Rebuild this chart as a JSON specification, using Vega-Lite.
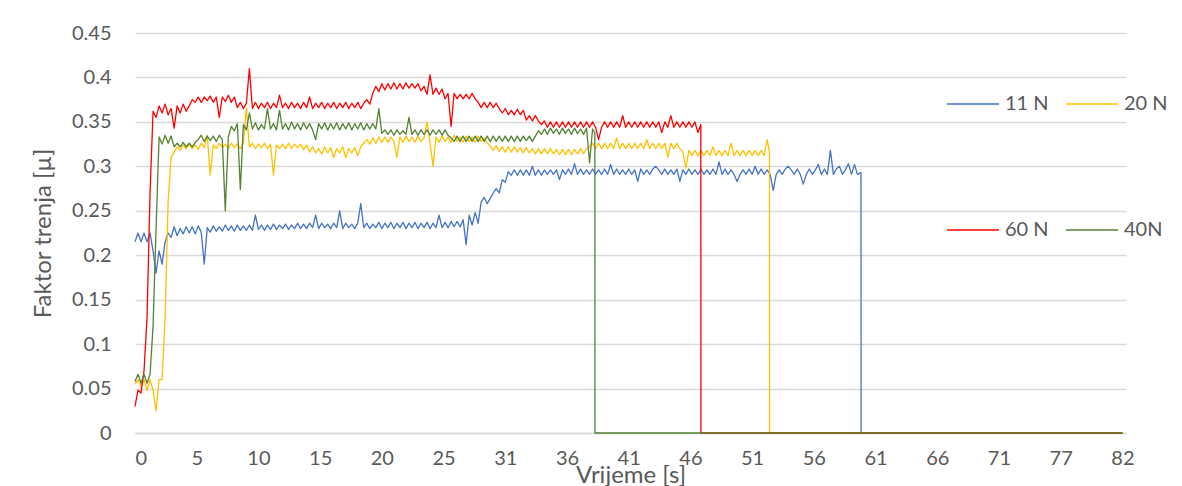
{
"$schema":"https://vega.github.io/schema/vega-lite/v6.json",
"width":991,"height":400,
"autosize":"none",
"padding":{"left":135,"top":33,"right":56,"bottom":53},
"background":"white",
"config":{"view":{"stroke":null},"font":"Lato",
 "axis":{"labelFont":"Lato","titleFont":"Lato","labelColor":"#595959","titleColor":"#595959","titleFontWeight":"normal","labelFontSize":20,"titleFontSize":24,"ticks":false,"tickSize":0},
 "line":{"strokeWidth":1.3,"strokeJoin":"round"}},
"datasets":{"run":[
{"t":0,"a":0.215,"b":0.055,"c":0.03,"d":0.058},
{"t":0.25,"a":0.225,"b":0.06,"c":0.048,"d":0.066},
{"t":0.5,"a":0.215,"b":0.052,"c":0.045,"d":0.056},
{"t":0.75,"a":0.225,"b":0.06,"c":0.07,"d":0.066},
{"t":1,"a":0.215,"b":0.048,"c":0.13,"d":0.056},
{"t":1.25,"a":0.225,"b":0.06,"c":0.27,"d":0.066},
{"t":1.5,"a":0.205,"b":0.048,"c":0.362,"d":0.12},
{"t":1.75,"a":0.18,"b":0.025,"c":0.355,"d":0.23},
{"t":2,"a":0.205,"b":0.06,"c":0.368,"d":0.333},
{"t":2.25,"a":0.19,"b":0.06,"c":0.36,"d":0.325},
{"t":2.5,"a":0.215,"b":0.13,"c":0.37,"d":0.335},
{"t":2.75,"a":0.225,"b":0.26,"c":0.358,"d":0.326},
{"t":3,"a":0.22,"b":0.31,"c":0.365,"d":0.334},
{"t":3.25,"a":0.232,"b":0.316,"c":0.343,"d":0.322},
{"t":3.5,"a":0.222,"b":0.322,"c":0.368,"d":0.326},
{"t":3.75,"a":0.23,"b":0.318,"c":0.36,"d":0.322},
{"t":4,"a":0.224,"b":0.324,"c":0.37,"d":0.327},
{"t":4.25,"a":0.232,"b":0.32,"c":0.362,"d":0.322},
{"t":4.5,"a":0.225,"b":0.325,"c":0.368,"d":0.326},
{"t":4.75,"a":0.232,"b":0.32,"c":0.375,"d":0.322},
{"t":5,"a":0.224,"b":0.324,"c":0.372,"d":0.327},
{"t":5.25,"a":0.233,"b":0.319,"c":0.378,"d":0.33},
{"t":5.5,"a":0.226,"b":0.326,"c":0.372,"d":0.335},
{"t":5.75,"a":0.19,"b":0.321,"c":0.378,"d":0.328},
{"t":6,"a":0.231,"b":0.335,"c":0.374,"d":0.334},
{"t":6.25,"a":0.226,"b":0.29,"c":0.379,"d":0.329},
{"t":6.5,"a":0.233,"b":0.324,"c":0.372,"d":0.334},
{"t":6.75,"a":0.227,"b":0.32,"c":0.378,"d":0.328},
{"t":7,"a":0.232,"b":0.326,"c":0.355,"d":0.335},
{"t":7.25,"a":0.227,"b":0.321,"c":0.378,"d":0.33},
{"t":7.5,"a":0.234,"b":0.325,"c":0.373,"d":0.25},
{"t":7.75,"a":0.228,"b":0.32,"c":0.38,"d":0.333},
{"t":8,"a":0.233,"b":0.326,"c":0.372,"d":0.345},
{"t":8.25,"a":0.227,"b":0.321,"c":0.378,"d":0.34},
{"t":8.5,"a":0.234,"b":0.325,"c":0.366,"d":0.348},
{"t":8.75,"a":0.228,"b":0.32,"c":0.372,"d":0.274},
{"t":9,"a":0.233,"b":0.326,"c":0.365,"d":0.347},
{"t":9.25,"a":0.228,"b":0.365,"c":0.371,"d":0.341},
{"t":9.5,"a":0.234,"b":0.322,"c":0.41,"d":0.36},
{"t":9.75,"a":0.228,"b":0.326,"c":0.365,"d":0.342},
{"t":10,"a":0.245,"b":0.32,"c":0.372,"d":0.349},
{"t":10.25,"a":0.229,"b":0.325,"c":0.365,"d":0.341},
{"t":10.5,"a":0.234,"b":0.321,"c":0.371,"d":0.347},
{"t":10.75,"a":0.228,"b":0.326,"c":0.366,"d":0.342},
{"t":11,"a":0.234,"b":0.32,"c":0.372,"d":0.365},
{"t":11.25,"a":0.229,"b":0.325,"c":0.365,"d":0.342},
{"t":11.5,"a":0.235,"b":0.29,"c":0.371,"d":0.348},
{"t":11.75,"a":0.229,"b":0.324,"c":0.366,"d":0.341},
{"t":12,"a":0.234,"b":0.32,"c":0.38,"d":0.363},
{"t":12.25,"a":0.23,"b":0.325,"c":0.366,"d":0.342},
{"t":12.5,"a":0.235,"b":0.32,"c":0.371,"d":0.348},
{"t":12.75,"a":0.229,"b":0.326,"c":0.365,"d":0.341},
{"t":13,"a":0.234,"b":0.32,"c":0.372,"d":0.35},
{"t":13.25,"a":0.23,"b":0.325,"c":0.366,"d":0.342},
{"t":13.5,"a":0.236,"b":0.321,"c":0.371,"d":0.348},
{"t":13.75,"a":0.23,"b":0.325,"c":0.365,"d":0.341},
{"t":14,"a":0.235,"b":0.319,"c":0.372,"d":0.349},
{"t":14.25,"a":0.23,"b":0.324,"c":0.366,"d":0.342},
{"t":14.5,"a":0.236,"b":0.316,"c":0.378,"d":0.348},
{"t":14.75,"a":0.231,"b":0.322,"c":0.365,"d":0.341},
{"t":15,"a":0.245,"b":0.315,"c":0.371,"d":0.33},
{"t":15.25,"a":0.23,"b":0.32,"c":0.366,"d":0.348},
{"t":15.5,"a":0.236,"b":0.314,"c":0.372,"d":0.342},
{"t":15.75,"a":0.231,"b":0.322,"c":0.365,"d":0.349},
{"t":16,"a":0.235,"b":0.315,"c":0.371,"d":0.341},
{"t":16.25,"a":0.23,"b":0.321,"c":0.366,"d":0.348},
{"t":16.5,"a":0.236,"b":0.31,"c":0.372,"d":0.342},
{"t":16.75,"a":0.231,"b":0.32,"c":0.365,"d":0.349},
{"t":17,"a":0.25,"b":0.315,"c":0.371,"d":0.341},
{"t":17.25,"a":0.23,"b":0.322,"c":0.366,"d":0.348},
{"t":17.5,"a":0.236,"b":0.31,"c":0.372,"d":0.342},
{"t":17.75,"a":0.231,"b":0.32,"c":0.365,"d":0.349},
{"t":18,"a":0.235,"b":0.315,"c":0.371,"d":0.341},
{"t":18.25,"a":0.23,"b":0.321,"c":0.366,"d":0.348},
{"t":18.5,"a":0.236,"b":0.312,"c":0.372,"d":0.342},
{"t":18.75,"a":0.258,"b":0.322,"c":0.365,"d":0.349},
{"t":19,"a":0.231,"b":0.326,"c":0.371,"d":0.341},
{"t":19.25,"a":0.236,"b":0.33,"c":0.375,"d":0.348},
{"t":19.5,"a":0.23,"b":0.325,"c":0.37,"d":0.342},
{"t":19.75,"a":0.235,"b":0.332,"c":0.382,"d":0.348},
{"t":20,"a":0.231,"b":0.326,"c":0.39,"d":0.342},
{"t":20.25,"a":0.237,"b":0.333,"c":0.384,"d":0.365},
{"t":20.5,"a":0.23,"b":0.327,"c":0.393,"d":0.337},
{"t":20.75,"a":0.236,"b":0.333,"c":0.386,"d":0.341},
{"t":21,"a":0.231,"b":0.327,"c":0.393,"d":0.336},
{"t":21.25,"a":0.237,"b":0.333,"c":0.387,"d":0.341},
{"t":21.5,"a":0.23,"b":0.328,"c":0.394,"d":0.335},
{"t":21.75,"a":0.236,"b":0.31,"c":0.387,"d":0.341},
{"t":22,"a":0.231,"b":0.333,"c":0.393,"d":0.336},
{"t":22.25,"a":0.237,"b":0.327,"c":0.387,"d":0.34},
{"t":22.5,"a":0.23,"b":0.334,"c":0.394,"d":0.336},
{"t":22.75,"a":0.236,"b":0.328,"c":0.388,"d":0.355},
{"t":23,"a":0.231,"b":0.333,"c":0.393,"d":0.336},
{"t":23.25,"a":0.237,"b":0.327,"c":0.388,"d":0.341},
{"t":23.5,"a":0.23,"b":0.334,"c":0.393,"d":0.335},
{"t":23.75,"a":0.236,"b":0.328,"c":0.385,"d":0.341},
{"t":24,"a":0.231,"b":0.332,"c":0.39,"d":0.336},
{"t":24.25,"a":0.237,"b":0.35,"c":0.381,"d":0.341},
{"t":24.5,"a":0.23,"b":0.327,"c":0.403,"d":0.335},
{"t":24.75,"a":0.236,"b":0.3,"c":0.381,"d":0.341},
{"t":25,"a":0.231,"b":0.333,"c":0.388,"d":0.336},
{"t":25.25,"a":0.245,"b":0.327,"c":0.381,"d":0.341},
{"t":25.5,"a":0.231,"b":0.334,"c":0.387,"d":0.335},
{"t":25.75,"a":0.237,"b":0.328,"c":0.376,"d":0.341},
{"t":26,"a":0.231,"b":0.333,"c":0.382,"d":0.335},
{"t":26.25,"a":0.238,"b":0.327,"c":0.345,"d":0.332},
{"t":26.5,"a":0.232,"b":0.335,"c":0.382,"d":0.328},
{"t":26.75,"a":0.238,"b":0.328,"c":0.376,"d":0.334},
{"t":27,"a":0.232,"b":0.333,"c":0.381,"d":0.328},
{"t":27.25,"a":0.24,"b":0.327,"c":0.376,"d":0.334},
{"t":27.5,"a":0.212,"b":0.334,"c":0.381,"d":0.328},
{"t":27.75,"a":0.245,"b":0.328,"c":0.376,"d":0.334},
{"t":28,"a":0.234,"b":0.333,"c":0.382,"d":0.328},
{"t":28.25,"a":0.248,"b":0.327,"c":0.376,"d":0.334},
{"t":28.5,"a":0.236,"b":0.334,"c":0.372,"d":0.328},
{"t":28.75,"a":0.26,"b":0.328,"c":0.366,"d":0.334},
{"t":29,"a":0.265,"b":0.332,"c":0.372,"d":0.328},
{"t":29.25,"a":0.258,"b":0.326,"c":0.366,"d":0.334},
{"t":29.5,"a":0.264,"b":0.323,"c":0.372,"d":0.328},
{"t":29.75,"a":0.27,"b":0.318,"c":0.366,"d":0.334},
{"t":30,"a":0.275,"b":0.323,"c":0.371,"d":0.328},
{"t":30.25,"a":0.27,"b":0.317,"c":0.365,"d":0.334},
{"t":30.5,"a":0.285,"b":0.322,"c":0.36,"d":0.328},
{"t":30.75,"a":0.282,"b":0.316,"c":0.365,"d":0.334},
{"t":31,"a":0.294,"b":0.322,"c":0.358,"d":0.328},
{"t":31.25,"a":0.29,"b":0.316,"c":0.363,"d":0.334},
{"t":31.5,"a":0.296,"b":0.322,"c":0.358,"d":0.328},
{"t":31.75,"a":0.29,"b":0.316,"c":0.364,"d":0.334},
{"t":32,"a":0.296,"b":0.321,"c":0.358,"d":0.328},
{"t":32.25,"a":0.29,"b":0.315,"c":0.363,"d":0.334},
{"t":32.5,"a":0.296,"b":0.321,"c":0.352,"d":0.329},
{"t":32.75,"a":0.29,"b":0.315,"c":0.357,"d":0.334},
{"t":33,"a":0.3,"b":0.32,"c":0.351,"d":0.328},
{"t":33.25,"a":0.29,"b":0.314,"c":0.357,"d":0.334},
{"t":33.5,"a":0.296,"b":0.32,"c":0.351,"d":0.34},
{"t":33.75,"a":0.29,"b":0.314,"c":0.347,"d":0.336},
{"t":34,"a":0.296,"b":0.32,"c":0.351,"d":0.342},
{"t":34.25,"a":0.291,"b":0.314,"c":0.344,"d":0.336},
{"t":34.5,"a":0.296,"b":0.32,"c":0.35,"d":0.343},
{"t":34.75,"a":0.291,"b":0.314,"c":0.344,"d":0.337},
{"t":35,"a":0.296,"b":0.319,"c":0.35,"d":0.342},
{"t":35.25,"a":0.285,"b":0.313,"c":0.344,"d":0.336},
{"t":35.5,"a":0.296,"b":0.319,"c":0.35,"d":0.343},
{"t":35.75,"a":0.291,"b":0.313,"c":0.344,"d":0.337},
{"t":36,"a":0.297,"b":0.319,"c":0.35,"d":0.342},
{"t":36.25,"a":0.291,"b":0.313,"c":0.344,"d":0.336},
{"t":36.5,"a":0.303,"b":0.319,"c":0.35,"d":0.343},
{"t":36.75,"a":0.291,"b":0.314,"c":0.344,"d":0.337},
{"t":37,"a":0.297,"b":0.32,"c":0.35,"d":0.342},
{"t":37.25,"a":0.291,"b":0.314,"c":0.344,"d":0.336},
{"t":37.5,"a":0.296,"b":0.32,"c":0.35,"d":0.343},
{"t":37.75,"a":0.291,"b":0.322,"c":0.344,"d":0.304},
{"t":38,"a":0.297,"b":0.326,"c":0.35,"d":0.342},
{"t":38.19,"d":0.338},
{"t":38.2,"d":0},
{"t":38.25,"a":0.291,"b":0.32,"c":0.344},
{"t":38.5,"a":0.296,"b":0.326,"c":0.33},
{"t":38.75,"a":0.291,"b":0.32,"c":0.344},
{"t":39,"a":0.297,"b":0.326,"c":0.35},
{"t":39.25,"a":0.291,"b":0.32,"c":0.344},
{"t":39.5,"a":0.302,"b":0.326,"c":0.35},
{"t":39.75,"a":0.291,"b":0.32,"c":0.344},
{"t":40,"a":0.297,"b":0.332,"c":0.35},
{"t":40.25,"a":0.291,"b":0.32,"c":0.344},
{"t":40.5,"a":0.296,"b":0.326,"c":0.357},
{"t":40.75,"a":0.291,"b":0.32,"c":0.344},
{"t":41,"a":0.297,"b":0.326,"c":0.35},
{"t":41.25,"a":0.291,"b":0.32,"c":0.344},
{"t":41.5,"a":0.296,"b":0.326,"c":0.35},
{"t":41.75,"a":0.283,"b":0.32,"c":0.344},
{"t":42,"a":0.297,"b":0.326,"c":0.35},
{"t":42.25,"a":0.291,"b":0.32,"c":0.344},
{"t":42.5,"a":0.296,"b":0.33,"c":0.35},
{"t":42.75,"a":0.291,"b":0.32,"c":0.344},
{"t":43,"a":0.297,"b":0.326,"c":0.35},
{"t":43.25,"a":0.3,"b":0.32,"c":0.344},
{"t":43.5,"a":0.296,"b":0.326,"c":0.35},
{"t":43.75,"a":0.291,"b":0.32,"c":0.338},
{"t":44,"a":0.297,"b":0.326,"c":0.35},
{"t":44.25,"a":0.291,"b":0.31,"c":0.344},
{"t":44.5,"a":0.296,"b":0.326,"c":0.357},
{"t":44.75,"a":0.291,"b":0.32,"c":0.344},
{"t":45,"a":0.297,"b":0.326,"c":0.35},
{"t":45.25,"a":0.283,"b":0.32,"c":0.344},
{"t":45.5,"a":0.296,"b":0.316,"c":0.35},
{"t":45.75,"a":0.291,"b":0.298,"c":0.344},
{"t":46,"a":0.297,"b":0.318,"c":0.35},
{"t":46.25,"a":0.291,"b":0.312,"c":0.344},
{"t":46.5,"a":0.296,"b":0.318,"c":0.35},
{"t":46.75,"a":0.291,"b":0.312,"c":0.338},
{"t":46.99,"c":0.347},
{"t":47,"a":0.297,"b":0.318,"c":0},
{"t":47.25,"a":0.291,"b":0.312},
{"t":47.5,"a":0.296,"b":0.318},
{"t":47.75,"a":0.291,"b":0.312},
{"t":48,"a":0.297,"b":0.322},
{"t":48.25,"a":0.291,"b":0.312},
{"t":48.5,"a":0.305,"b":0.318},
{"t":48.75,"a":0.291,"b":0.312},
{"t":49,"a":0.297,"b":0.318},
{"t":49.25,"a":0.291,"b":0.312},
{"t":49.5,"a":0.296,"b":0.326},
{"t":49.75,"a":0.291,"b":0.312},
{"t":50,"a":0.283,"b":0.318},
{"t":50.25,"a":0.291,"b":0.312},
{"t":50.5,"a":0.296,"b":0.318},
{"t":50.75,"a":0.291,"b":0.312},
{"t":51,"a":0.297,"b":0.318},
{"t":51.25,"a":0.291,"b":0.312},
{"t":51.5,"a":0.3,"b":0.318},
{"t":51.75,"a":0.291,"b":0.312},
{"t":52,"a":0.297,"b":0.318},
{"t":52.25,"a":0.291,"b":0.312},
{"t":52.5,"a":0.296,"b":0.33},
{"t":52.69,"b":0.316},
{"t":52.7,"b":0},
{"t":52.75,"a":0.291},
{"t":53,"a":0.273},
{"t":53.25,"a":0.291},
{"t":53.5,"a":0.296},
{"t":53.75,"a":0.291},
{"t":54,"a":0.297},
{"t":54.25,"a":0.3},
{"t":54.5,"a":0.296},
{"t":54.75,"a":0.291},
{"t":55,"a":0.297},
{"t":55.25,"a":0.291},
{"t":55.5,"a":0.28},
{"t":55.75,"a":0.291},
{"t":56,"a":0.297},
{"t":56.25,"a":0.291},
{"t":56.5,"a":0.296},
{"t":56.75,"a":0.302},
{"t":57,"a":0.291},
{"t":57.25,"a":0.297},
{"t":57.5,"a":0.291},
{"t":57.75,"a":0.318},
{"t":58,"a":0.291},
{"t":58.25,"a":0.297},
{"t":58.5,"a":0.3},
{"t":58.75,"a":0.291},
{"t":59,"a":0.296},
{"t":59.25,"a":0.303},
{"t":59.5,"a":0.291},
{"t":59.75,"a":0.302},
{"t":60,"a":0.291},
{"t":60.29,"a":0.293},
{"t":60.3,"a":0},
{"t":82,"a":0,"b":0,"c":0,"d":0}
]},
"encoding":{
 "x":{"field":"t","type":"quantitative","scale":{"domain":[0,82.3],"nice":false,"zero":false},
  "axis":{"title":"Vrijeme [s]","grid":false,"domainColor":"#D9D9D9","domainWidth":1.5,"labelPadding":15,"titlePadding":-5,
   "values":[0,5.125,10.25,15.375,20.5,25.625,30.75,35.875,41,46.125,51.25,56.375,61.5,66.625,71.75,76.875,82],
   "labelExpr":"['0','5','10','15','20','25','31','36','41','46','51','56','61','66','71','77','82'][round(datum.value/5.125)]"}},
 "y":{"field":"v","type":"quantitative","scale":{"domain":[0,0.45],"nice":false},
  "axis":{"title":"Faktor trenja [µ]","domain":false,"gridColor":"#D9D9D9","gridWidth":1.3,"labelPadding":24,"titlePadding":16,
   "values":[0,0.05,0.1,0.15,0.2,0.25,0.3,0.35,0.4,0.45],"format":".2~f"}}
},
"layer":[
 {"data":{"name":"run"},
  "transform":[{"fold":["a","b"],"as":["s","v"]},{"filter":"isValid(datum.v)"}],
  "mark":{"type":"line"},
  "encoding":{"color":{"field":"s","type":"nominal","scale":{"domain":["a","b"],"range":["#4472C4","#FFC000"]},
   "legend":{"title":null,"orient":"none","legendX":811,"legendY":44,"direction":"horizontal","symbolType":"stroke","symbolSize":2704,"symbolStrokeWidth":2,"labelFont":"Lato","labelFontSize":20,"labelColor":"#595959","labelOffset":5,"columnPadding":16,"padding":0,"labelExpr":"datum.value=='a'?'11 N':'20 N'"}}}},
 {"data":{"name":"run"},
  "transform":[{"fold":["c","d"],"as":["s","v"]},{"filter":"isValid(datum.v)"}],
  "mark":{"type":"line"},
  "encoding":{"color":{"field":"s","type":"nominal","scale":{"domain":["c","d"],"range":["#FF0000","#548235"]},
   "legend":{"title":null,"orient":"none","legendX":811,"legendY":170,"direction":"horizontal","symbolType":"stroke","symbolSize":2704,"symbolStrokeWidth":1.5,"labelFont":"Lato","labelFontSize":20,"labelColor":"#595959","labelOffset":5,"columnPadding":16,"padding":0,"labelExpr":"datum.value=='c'?'60 N':'40N'"}}}}
],
"resolve":{"scale":{"color":"independent"}}
}
